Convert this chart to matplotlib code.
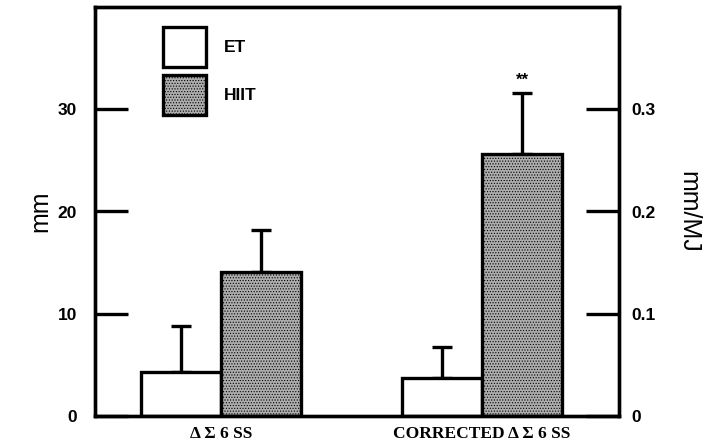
import numpy as np
import matplotlib.pyplot as plt

groups = ["\u0394 \u03a3 6 SS", "CORRECTED \u0394 \u03a3 6 SS"]
et_mean = [4.3, 3.7]
et_err = [4.5, 3.0]
hiit_mean = [14.1, 25.6]
hiit_err = [4.1, 6.0]

plt.rcParams["hatch.color"] = "#999999"
plt.rcParams["hatch.linewidth"] = 0.5

fig = plt.figure(figsize=(7.07, 4.48), dpi=100)
ax = fig.add_axes([95 / 707, 32 / 448, 524 / 707, 409 / 448])

x = np.arange(len(groups))
w = 0.306
lw = 2.4
ax.bar(x - w / 2, et_mean, w, color="white", edgecolor="black", linewidth=lw, label="ET", zorder=2)
ax.bar(x + w / 2, hiit_mean, w, color="#adadad", edgecolor="black", linewidth=lw,
       hatch="......", label="HIIT", zorder=2)

ax.errorbar(x - w / 2, et_mean, yerr=[np.zeros(2), et_err], fmt="none", ecolor="black",
            elinewidth=2.4, capsize=7.5, capthick=2.4, zorder=1)
ax.errorbar(x + w / 2, hiit_mean, yerr=[np.zeros(2), hiit_err], fmt="none", ecolor="black",
            elinewidth=2.4, capsize=7.5, capthick=2.4, zorder=1)
ax.text(x[1] + w / 2, hiit_mean[1] + hiit_err[1] + 0.5, "**", ha="center", va="bottom",
        fontsize=12, fontweight="bold", family="Liberation Sans")

ax.set_xlim(-0.483, 1.525)
ax.set_ylim(0, 40)
ax.set_yticks([0, 10, 20, 30])
ax.set_yticklabels(["0", "10", "20", "30"])
ax.set_xticks(x)
ax.set_xticklabels(groups, family="Liberation Serif", fontweight="bold", fontsize=12.5)
ax.tick_params(axis="x", length=0, pad=7)
ax.tick_params(axis="y", direction="in", length=24, width=2.4, pad=13, labelsize=12.5)
for lab in ax.get_yticklabels():
    lab.set_family("Liberation Sans")
    lab.set_fontweight("bold")
for s in ax.spines.values():
    s.set_linewidth(2.4)
ax.set_ylabel("mm", family="Liberation Sans", fontsize=18, labelpad=4)

ax2 = ax.twinx()
ax2.set_ylim(0, 0.4)
ax2.set_yticks([0, 0.1, 0.2, 0.3])
ax2.set_yticklabels(["0", "0.1", "0.2", "0.3"])
ax2.tick_params(axis="y", direction="in", length=24, width=2.4, pad=9, labelsize=12.5)
for lab in ax2.get_yticklabels():
    lab.set_family("Liberation Sans")
    lab.set_fontweight("bold")
for s in ax2.spines.values():
    s.set_linewidth(2.4)
ax2.set_ylabel("mm/MJ", family="Liberation Sans", fontsize=18, rotation=270, labelpad=32)

leg = ax.legend(loc="upper left", bbox_to_anchor=(0.1, 0.99), frameon=False,
                handlelength=2.5, handleheight=3.2, labelspacing=0.45, handletextpad=1.0,
                prop={"family": "Liberation Sans", "weight": "bold", "size": 12.5})

fig.savefig("out.png", dpi=100)
